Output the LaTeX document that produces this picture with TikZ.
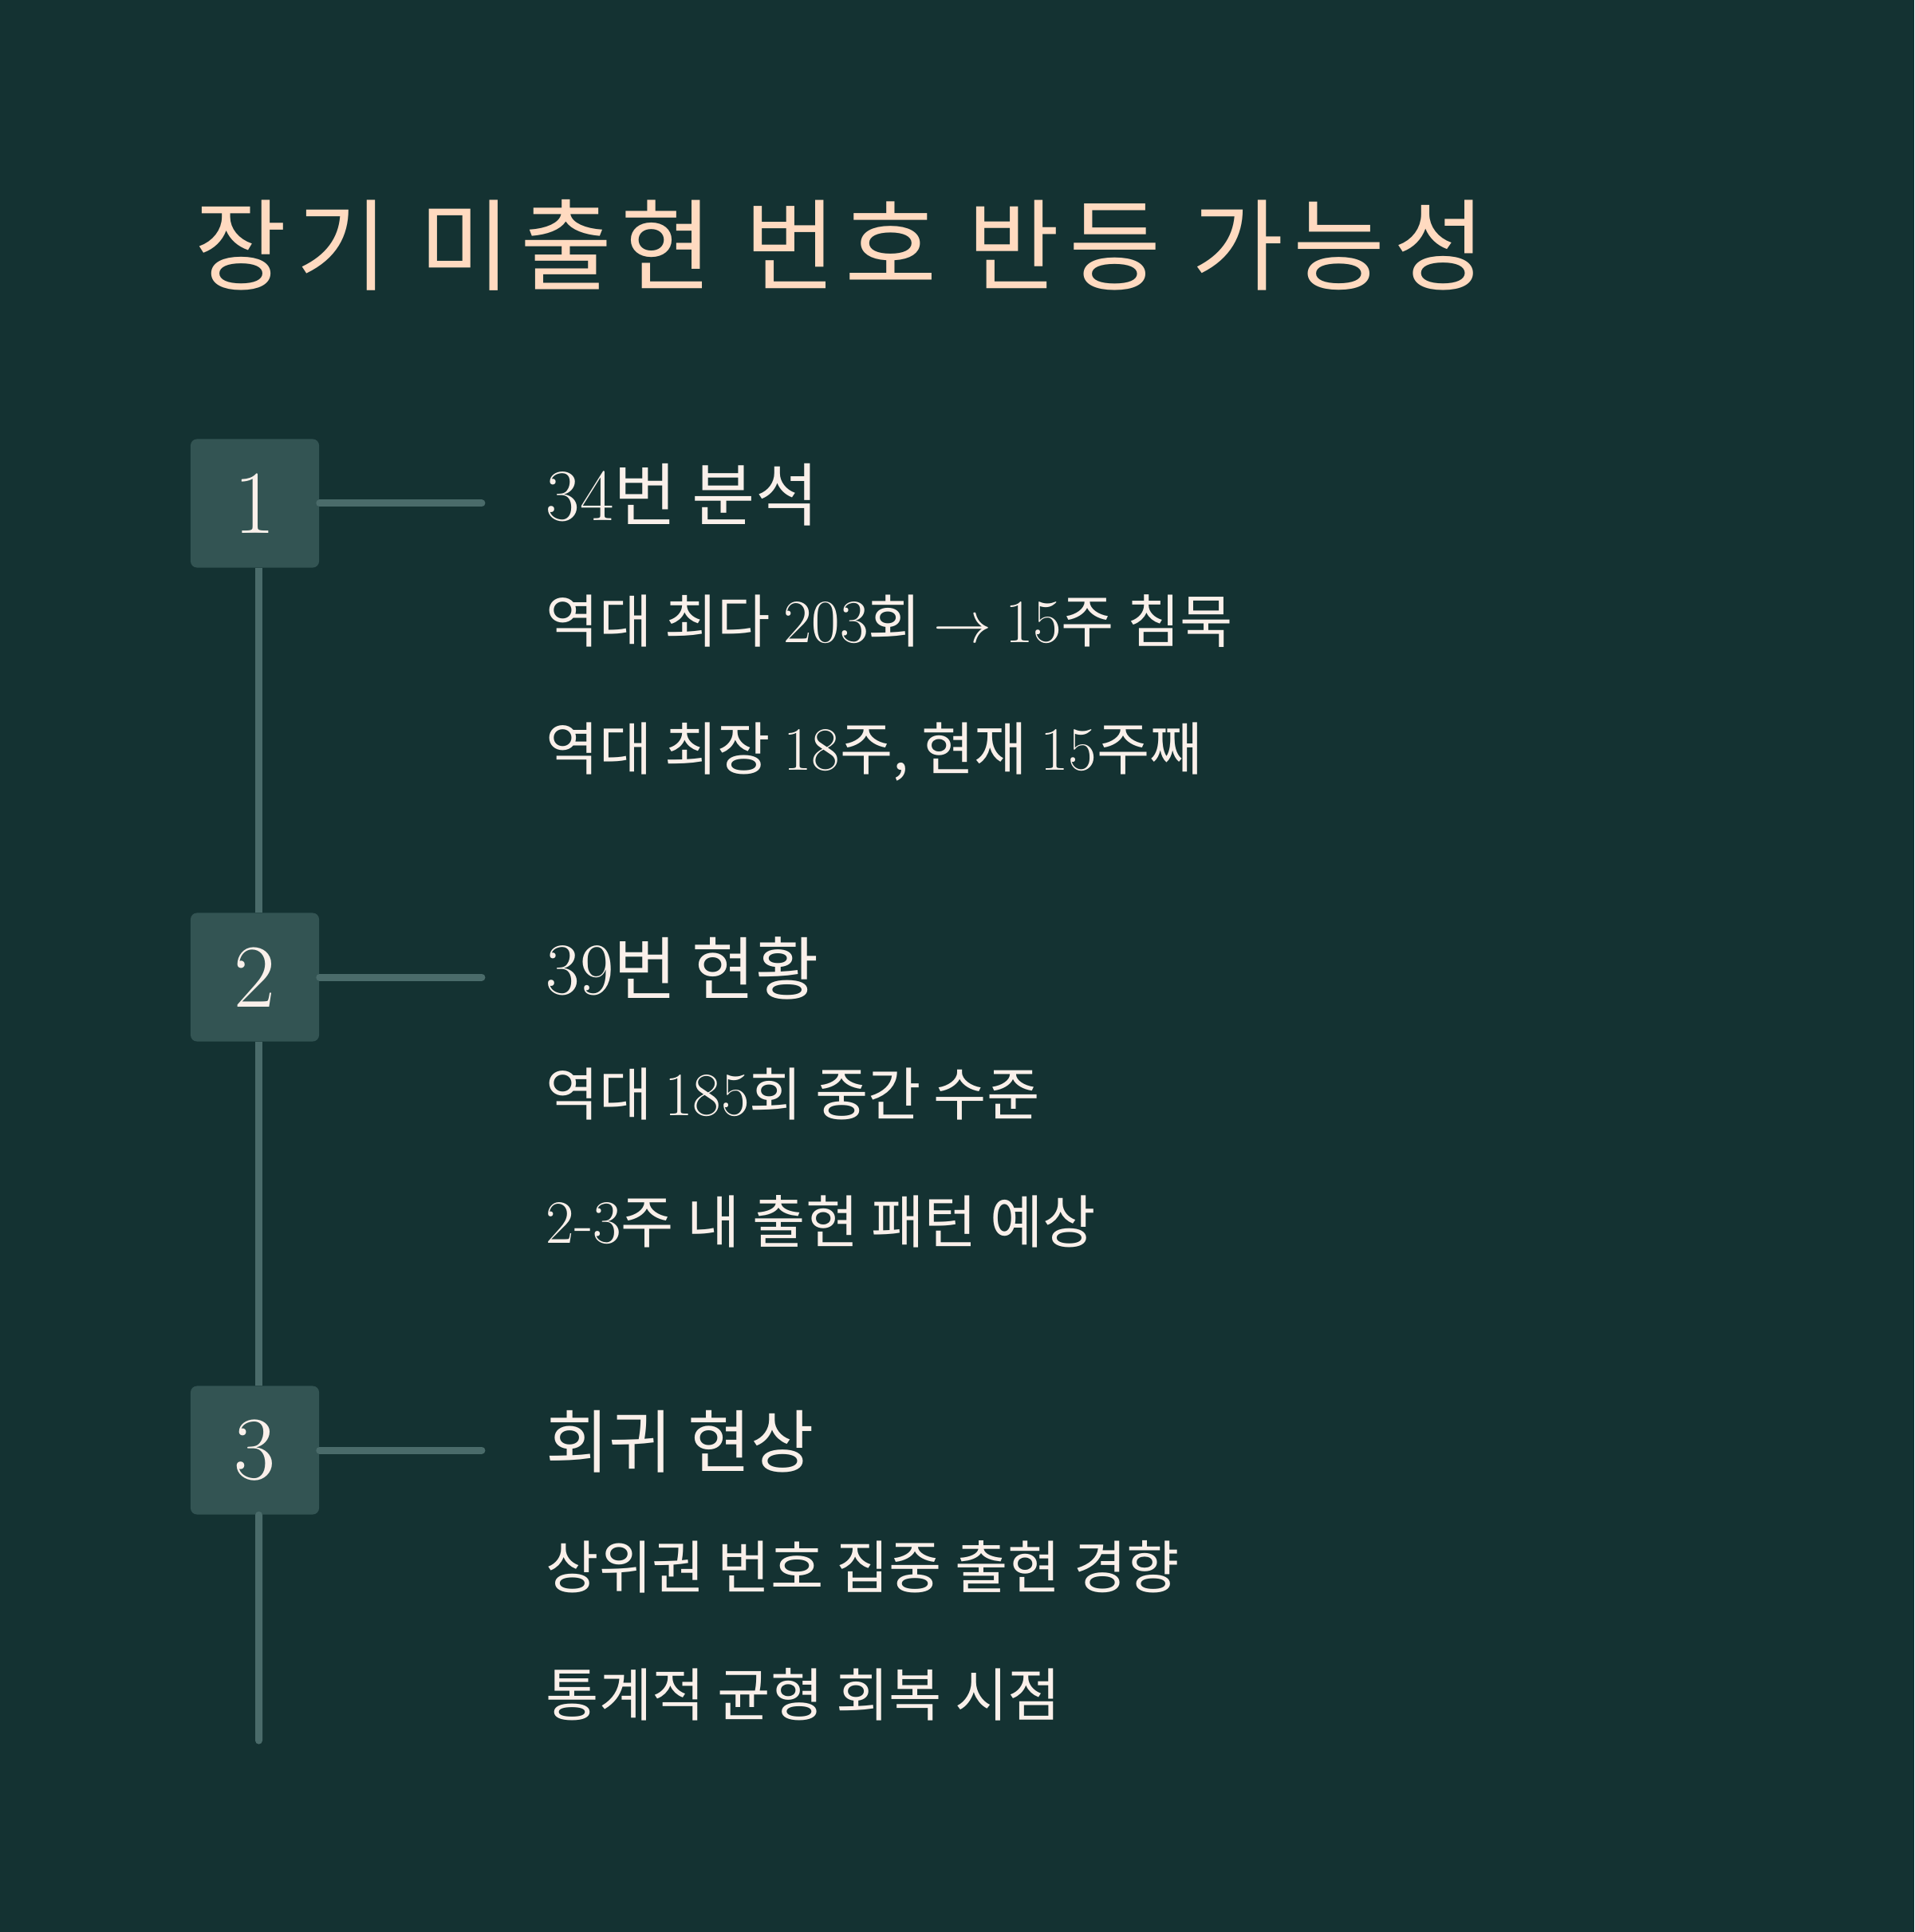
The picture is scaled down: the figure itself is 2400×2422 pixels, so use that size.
\documentclass[tikz,border=0pt]{standalone}
\usepackage{fontspec}
\setmainfont{Noto Sans CJK KR}
\newfontfamily\numfont[Scale=1.07]{Latin Modern Roman}
\usetikzlibrary{positioning}
\definecolor{Night}{HTML}{143232}
\definecolor{Slate}{HTML}{335453}
\definecolor{Rail}{HTML}{4A6B6A}
\definecolor{Peach}{HTML}{FFDAC0}
\definecolor{Shell}{HTML}{FAF0EA}
\newcommand{\nm}[1]{{\numfont #1}}
\tikzset{
  numbox/.style={fill=Slate, rounded corners=0.08cm, minimum size=1.61cm,
    inner sep=0pt, text=Shell, font=\numfont\fontsize{30}{30}\selectfont},
  rail/.style={draw=Rail, line width=0.09cm, line cap=round},
  headtext/.style={anchor=base west, inner sep=0pt, text=Shell,
    font=\fontsize{24.5}{24.5}\selectfont},
  itemtext/.style={anchor=base west, inner sep=0pt, text=Shell,
    font=\fontsize{20.5}{20.5}\selectfont},
}

\begin{document}
\begin{tikzpicture}[x=0.01cm, y=-0.01cm]
  \path[fill=Night] (0,0) rectangle (2400,2422);
  \useasboundingbox (0,0) rectangle (2400,2422);

  \node[anchor=base west, inner sep=0pt, text=Peach,
    font=\addfontfeatures{LetterSpace=9}\fontsize{35.6}{35.6}\selectfont]
    (title) at (244,355) {장기 미출현 번호 반등 가능성};

  % step boxes
  \node[numbox] (b1) at (319.5,631) {1};
  \node[numbox] (b2) at (319.5,1225) {2};
  \node[numbox] (b3) at (319.5,1818) {3};
  \coordinate (railend) at (324.5,2182);

  % texts
  \node[headtext] (h1) at (684,653) {\nm{34}번 분석};
  \node[itemtext] (i11) at (684,805) {역대 최다 \nm{203}회 $\rightarrow$ \nm{15}주 침묵};
  \node[itemtext] (i12) at (684,965) {역대 최장 \nm{18}주, 현재 \nm{15}주째};

  \node[headtext] (h2) at (684,1246) {\nm{39}번 현황};
  \node[itemtext] (i21) at (684,1398) {역대 \nm{185}회 중간 수준};
  \node[itemtext] (i22) at (684,1558) {\nm{2-3}주 내 출현 패턴 예상};

  \node[headtext] (h3) at (684,1839) {회귀 현상};
  \node[itemtext] (i31) at (684,1991) {상위권 번호 집중 출현 경향};
  \node[itemtext] (i32) at (684,2151) {통계적 균형 회복 시점};

  % rail
  \draw[rail, line cap=butt] ([xshift=0.05cm]b1.south) -- ([xshift=0.05cm]b2.north);
  \draw[rail, line cap=butt] ([xshift=0.05cm]b2.south) -- ([xshift=0.05cm]b3.north);
  \draw[rail] ([xshift=0.05cm]b3.south) -- (railend);
  \draw[rail, shorten >=0.8cm] (b1.east) -- (b1.east -| h1.west);
  \draw[rail, shorten >=0.8cm] (b2.east) -- (b2.east -| h2.west);
  \draw[rail, shorten >=0.8cm] (b3.east) -- (b3.east -| h3.west);
\end{tikzpicture}
\end{document}
